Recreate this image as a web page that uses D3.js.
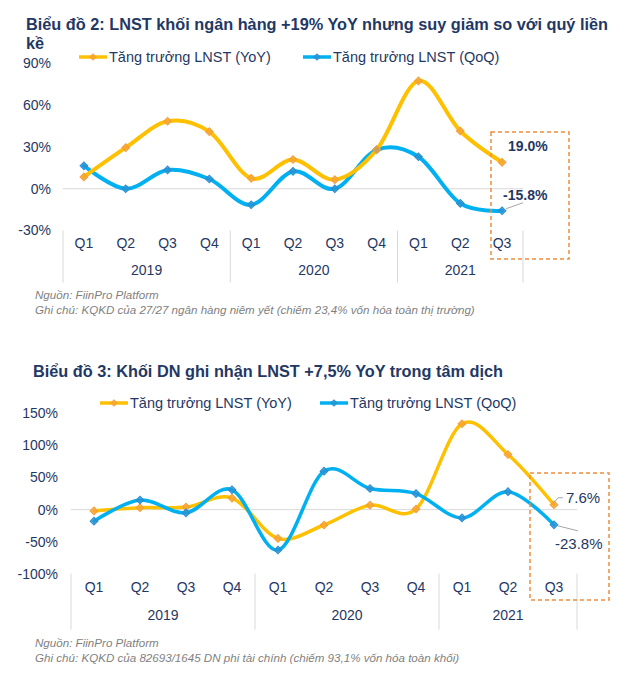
<!DOCTYPE html>
<html><head><meta charset="utf-8">
<script src="https://cdn.jsdelivr.net/npm/d3@7"></script>
<style>body{margin:0;background:#fff}svg{display:block;font-family:"Liberation Sans",Arial,sans-serif}</style>
</head><body><svg id="c" width="630" height="680"></svg>
<script>
// ---- Data ----
const quarters = ["Q1","Q2","Q3","Q4","Q1","Q2","Q3","Q4","Q1","Q2","Q3"];
const years = ["2019","2020","2021"];
const yearSpans = [4,4,3];
const legendNames = ["Tăng trưởng LNST (YoY)","Tăng trưởng LNST (QoQ)"];

const title1 = ["Biểu đồ 2: LNST khối ngân hàng +19% YoY nhưng suy giảm so với quý liền","kề"];
const bankYoY = [8.5, 29.5, 48.5, 41, 7.5, 21, 6.5, 28, 77.5, 41.5, 19.0];
const bankQoQ = [16.5, 0, 13.5, 7, -11.5, 12.5, 0, 28, 23, -10.5, -15.8];
const ticks1 = [-30, 0, 30, 60, 90];
const notes1 = ["Nguồn: FiinPro Platform","Ghi chú: KQKD của 27/27 ngân hàng niêm yết (chiếm 23,4% vốn hóa toàn thị trường)"];

const title2 = ["Biểu đồ 3: Khối DN ghi nhận LNST +7,5% YoY trong tâm dịch"];
const corpYoY = [-2, 3, 4, 18, -45, -24, 7, 1, 134, 86, 7.6];
const corpQoQ = [-18, 15, -5, 31, -63, 60, 33, 25, -13, 28, -23.8];
const ticks2 = [-100, -50, 0, 50, 100, 150];
const notes2 = ["Nguồn: FiinPro Platform","Ghi chú: KQKD của 82693/1645 DN phi tài chính (chiếm 93,1% vốn hóa toàn khối)"];

// ---- Style ----
const NAVY = "#1F3864";
const YEL = "#FFC000", YEL_M = "#F4A13A";
const BLU = "#00B0F0", BLU_M = "#2E8FD0";
const svg = d3.select("#c");
const keys = quarters.map((q,i)=>i);
const diamond = size => d3.symbol(d3.symbolSquare, size)();

function drawChart(o){
  const g = svg.append("g");
  o.title.forEach((t,i)=>g.append("text").attr("x",o.titleX).attr("y",o.titleY+i*19)
    .attr("font-size",16.3).attr("font-weight","bold").attr("fill",NAVY).text(t));
  const x = d3.scaleBand().domain(keys).range(o.xr).padding(0);
  const y = d3.scaleLinear().domain(o.yd).range(o.yr);
  o.ticks.forEach(t=>g.append("text").attr("x",o.yLabX).attr("y",y(t)).attr("dy","0.35em")
    .attr("text-anchor","end").attr("font-size",14).attr("fill",NAVY).text(t+"%"));
  g.append("line").attr("x1",o.xr[0]).attr("x2",o.xr[1]).attr("y1",y(0)).attr("y2",y(0))
    .attr("stroke","#D9D9D9").attr("stroke-width",1);
  const bottom = y(o.yd[0]);
  keys.forEach(k=>g.append("text").attr("x",x(k)+x.bandwidth()/2).attr("y",bottom+o.catDy)
    .attr("text-anchor","middle").attr("font-size",14).attr("fill",NAVY).text(quarters[k]));
  let idx = 0;
  const seps = [0];
  yearSpans.forEach((s,i)=>{
    const x0 = x(idx), x1 = idx+s < keys.length ? x(idx+s) : o.xr[1];
    g.append("text").attr("x",(x0+x1)/2).attr("y",bottom+o.yearDy).attr("text-anchor","middle")
      .attr("font-size",14).attr("fill",NAVY).text(years[i]);
    idx += s; seps.push(idx);
  });
  seps.forEach(s=>{
    const xx = s < keys.length ? x(s) : o.xr[1];
    g.append("line").attr("x1",xx).attr("x2",xx).attr("y1",bottom).attr("y2",bottom+o.sepLen)
      .attr("stroke","#D9D9D9").attr("stroke-width",1);
  });
  const cx = k=>x(k)+x.bandwidth()/2;
  const line = d3.line().x((d,i)=>cx(i)).y(d=>y(d)).curve(d3.curveCardinal.tension(0));
  const series = [{v:o.yoy,c:YEL,m:YEL_M},{v:o.qoq,c:BLU,m:BLU_M}];
  const order = o.blueOnTop ? [0,1] : [1,0];
  order.forEach(si=>{
    const s = series[si];
    g.append("path").attr("d",line(s.v)).attr("fill","none").attr("stroke",s.c)
      .attr("stroke-width",o.lw).attr("stroke-linecap","round");
  });
  order.forEach(si=>{
    const s = series[si];
    s.v.forEach((d,i)=>g.append("path").attr("d",diamond(28))
      .attr("transform",`translate(${cx(i)},${y(d)}) rotate(45)`).attr("fill",s.m).attr("fill-opacity",0.7)
      .attr("stroke",s.m).attr("stroke-width",1.2));
  });
  o.legend.forEach((lx,i)=>{
    const s = series[i];
    g.append("line").attr("x1",lx).attr("x2",lx+28).attr("y1",o.legY).attr("y2",o.legY)
      .attr("stroke",s.c).attr("stroke-width",3.5);
    g.append("path").attr("d",diamond(20)).attr("transform",`translate(${lx+14},${o.legY}) rotate(45)`)
      .attr("fill",s.m).attr("fill-opacity",0.7).attr("stroke",s.m);
    g.append("text").attr("x",lx+30).attr("y",o.legY).attr("dy","0.35em").attr("font-size",14.5)
      .attr("fill",NAVY).text(legendNames[i]);
  });
  const last = keys.length-1;
  o.ann.forEach(a=>{
    const val = a.s===0 ? o.yoy[last] : o.qoq[last];
    const px = cx(last), py = y(val);
    if (a.lead.length) g.append("path").attr("d",d3.line()(a.lead.map(p=>[px+p[0],py+p[1]]))).attr("fill","none")
      .attr("stroke","#A6A6A6").attr("stroke-width",1);
    g.append("text").attr("x",px+a.dx).attr("y",py+a.dy).attr("dy","0.35em").attr("font-size",a.fs)
      .attr("font-weight",a.bold?"bold":"normal").attr("fill",NAVY).text(val.toFixed(1)+"%");
  });
  g.append("rect").attr("x",o.box[0]).attr("y",o.box[1]).attr("width",o.box[2]-o.box[0]).attr("height",o.box[3]-o.box[1])
    .attr("fill","none").attr("stroke","#F08C3C").attr("stroke-width",1.5).attr("stroke-dasharray","4,3");
  o.notes.forEach((t,i)=>g.append("text").attr("x",35).attr("y",o.noteY+i*15).attr("font-size",11.6)
    .attr("font-style","italic").attr("fill","#7F7F7F").text(t));
}

drawChart({title:title1,titleX:26,titleY:30,xr:[63,523],yd:[-30,90],yr:[230.5,63.5],ticks:ticks1,yLabX:51,
  catDy:17,yearDy:44,sepLen:52,yoy:bankYoY,qoq:bankQoQ,lw:4,blueOnTop:false,
  legend:[79,303],legY:57,
  ann:[{s:0,dx:6,dy:-16,fs:14,bold:true,lead:[]},{s:1,dx:1,dy:-16,fs:14,bold:true,lead:[[4,-2],[21,-8]]}],
  box:[491,132,569,259],notes:notes1,noteY:299});

drawChart({title:title2,titleX:33,titleY:377,xr:[71,577],yd:[-100,150],yr:[573.7,413.5],ticks:ticks2,yLabX:58,
  catDy:18,yearDy:46,sepLen:56,yoy:corpYoY,qoq:corpQoQ,lw:3.5,blueOnTop:true,
  legend:[100,320],legY:403,
  ann:[{s:0,dx:12,dy:-7,fs:15,bold:false,lead:[[0,-2],[4,-7],[9,-7]]},{s:1,dx:1,dy:19,fs:15,bold:false,lead:[[4,1],[24,6]]}],
  box:[530,473,609,600],notes:notes2,noteY:647});
</script></body></html>
